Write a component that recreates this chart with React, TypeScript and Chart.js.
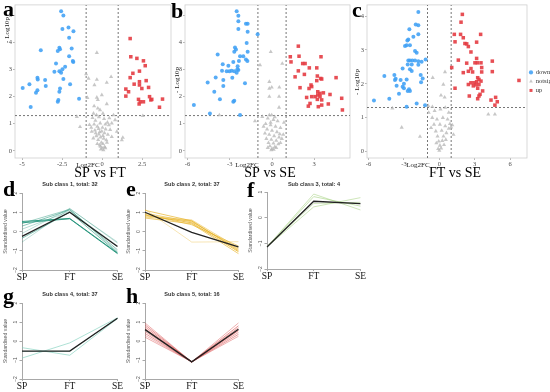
import React, { useEffect, useRef } from 'react';
import { Chart, registerables } from 'chart.js';
Chart.register(...registerables);

const SERIF = '"Liberation Serif", "DejaVu Serif", serif';
const SANS = '"Liberation Sans", Arial, sans-serif';

type XY = [number, number];

// ---------------- Volcano data (Log2FC, -Log10p) ----------------
const A_DOWN: XY[] = [[-2.56,5.15],[-2.42,4.99],[-2.48,4.49],[-2.1,4.55],[-1.79,4.41],[-2.06,4.17],[-3.83,3.71],[-2.67,3.8],[-2.63,3.75],[-2.77,3.68],[-1.9,3.77],[-2.06,3.49],[-1.83,3.31],[-1.8,3.28],[-2.88,3.22],[-2.31,3.1],[-2.48,3.01],[-2.67,2.94],[-2.98,2.92],[-2.56,2.88],[-2.42,2.65],[-4.04,2.7],[-4.02,2.63],[-3.56,2.61],[-4.54,2.46],[-3.52,2.39],[-2.0,2.46],[-2.63,2.3],[-4.96,2.32],[-4.04,2.24],[-4.13,2.14],[-2.67,2.18],[-2.73,1.88],[-2.77,1.81],[-1.44,1.92],[-4.46,1.62]];
const A_UP: XY[] = [[1.75,4.14],[1.79,3.47],[2.17,3.41],[2.58,3.32],[2.69,3.14],[1.92,2.86],[2.33,2.94],[2.75,2.59],[1.75,2.7],[2.33,2.55],[2.33,2.43],[2.0,2.46],[2.48,2.3],[2.9,2.34],[1.48,2.28],[1.65,2.18],[1.48,2.02],[2.27,1.9],[2.38,1.81],[2.31,1.73],[2.58,1.81],[2.96,2.0],[3.1,1.9],[3.04,1.88],[3.77,1.91],[3.58,1.61]];
const A_NOTSIG: XY[] = [[-0.33,3.62],[-1.0,2.83],[-0.85,2.67],[-0.33,2.63],[0.56,2.73],[0.29,2.52],[-0.48,2.43],[-0.92,1.96],[-0.33,1.97],[-0.27,1.88],[-0.02,2.06],[0.29,1.73],[-0.5,1.65],[-0.27,1.57],[-0.13,1.51],[-0.54,1.38],[-1.58,1.26],[-1.38,0.89],[0.71,1.32],[0.81,1.14],[2.54,1.29],[0.92,0.71],[1.29,0.49],[1.23,0.4],[-0.79,0.96],[-0.65,0.71],[-0.6,1.22],[-0.42,1.12],[-0.2,1.25],[0.12,1.18],[0.33,1.05],[-0.5,0.98],[-0.3,0.9],[0.02,0.86],[0.22,0.8],[0.42,0.95],[-0.45,0.76],[-0.15,0.7],[0.15,0.66],[0.36,0.6],[-0.36,0.55],[-0.1,0.5],[0.1,0.46],[0.26,0.4],[-0.25,0.41],[-0.05,0.31],[0.05,0.26],[-0.15,0.21],[0.15,0.15],[0.0,0.1],[-0.08,0.06],[0.08,0.03],[-0.2,0.61],[0.05,0.56],[-0.4,0.66],[0.5,0.78],[0.6,0.52],[-0.55,0.47],[-0.3,0.26],[0.3,0.31],[-0.1,0.16],[0.2,0.11],[-0.68,0.86],[0.45,1.21],[-0.12,1.02],[0.2,0.98],[-0.35,1.32],[0.05,1.38],[-0.22,0.82],[-0.02,0.72],[0.6,1.02]];

const B_DOWN: XY[] = [[-2.51,5.15],[-2.39,4.98],[-2.39,4.78],[-1.85,4.69],[-1.73,4.69],[-2.39,4.49],[-1.73,4.39],[-1.02,4.3],[-1.8,3.98],[-2.63,3.81],[-2.56,3.74],[-2.68,3.65],[-3.86,3.55],[-1.73,3.65],[-2.27,3.49],[-2.04,3.49],[-1.85,3.37],[-2.75,3.28],[-2.35,3.31],[-1.75,3.31],[-3.5,3.19],[-3.1,3.14],[-2.44,3.12],[-3.55,2.95],[-3.22,2.94],[-3.03,2.94],[-2.87,2.95],[-2.68,2.94],[-2.46,3.01],[-2.39,2.98],[-2.51,2.88],[-4.0,2.71],[-3.46,2.61],[-2.82,2.7],[-4.57,2.52],[-1.92,2.49],[-3.46,2.39],[-4.1,2.18],[-3.7,1.9],[-2.68,1.85],[-2.75,1.81],[-5.55,1.69],[-4.41,1.38],[-2.27,1.32]];
const B_UP: XY[] = [[1.87,3.86],[1.3,3.47],[1.92,3.49],[1.35,3.28],[2.18,3.22],[2.35,3.22],[3.48,3.47],[2.65,3.06],[3.18,3.06],[1.87,2.95],[2.3,2.82],[1.64,2.73],[3.22,2.76],[3.53,2.65],[3.46,2.67],[4.55,2.7],[3.18,2.59],[2.77,2.43],[1.99,2.33],[2.82,2.37],[2.63,2.3],[2.46,1.97],[2.82,2.0],[3.25,2.18],[3.25,2.06],[3.41,2.12],[3.65,2.14],[3.06,2.0],[3.41,2.0],[3.22,1.9],[3.53,1.88],[4.12,2.08],[4.95,1.94],[2.7,1.75],[2.58,1.65],[3.29,1.63],[3.53,1.69],[4.0,1.73],[5.0,1.51]];
const B_NOTSIG: XY[] = [[-0.09,3.65],[-0.85,3.16],[0.73,3.22],[-0.19,2.55],[-0.19,2.3],[-0.02,2.34],[0.52,2.34],[-0.19,2.0],[0.5,2.0],[0.5,1.6],[-0.19,1.32],[-0.02,1.32],[-0.69,1.26],[-1.21,1.1],[-3.74,1.32],[-0.3,1.2],[0.1,1.15],[0.4,1.1],[-0.45,1.0],[-0.1,0.95],[0.25,0.9],[0.6,0.85],[-0.35,0.8],[0.0,0.75],[0.35,0.7],[-0.5,0.65],[-0.2,0.6],[0.15,0.55],[0.5,0.5],[-0.4,0.45],[-0.05,0.42],[0.3,0.38],[0.7,0.45],[-0.25,0.3],[0.1,0.28],[0.45,0.25],[-0.15,0.18],[0.2,0.15],[0.0,0.08],[-0.05,0.03],[0.12,0.05],[0.55,0.62],[-0.6,0.9],[0.85,1.05],[0.3,0.12],[-0.3,0.12],[0.6,0.3],[0.8,0.6],[-0.1,1.05],[0.2,1.25]];

const C_DOWN: XY[] = [[-1.78,4.12],[-1.78,3.73],[-2.0,3.75],[-1.78,3.46],[-2.54,3.61],[-2.2,3.39],[-2.63,3.31],[-2.71,3.28],[-2.77,3.14],[-2.91,3.12],[-2.49,3.14],[-2.06,2.97],[-1.92,2.92],[-1.16,2.72],[-2.63,2.69],[-2.49,2.69],[-2.29,2.69],[-2.06,2.69],[-1.78,2.67],[-2.68,2.57],[-2.34,2.57],[-1.5,2.65],[-1.78,2.56],[-2.49,2.43],[-3.11,2.45],[-2.34,2.38],[-3.81,2.26],[-4.66,2.23],[-3.7,2.15],[-3.76,2.11],[-1.58,2.26],[-1.41,2.16],[-3.28,2.11],[-2.77,2.13],[-1.55,2.05],[-3.0,2.0],[-3.62,1.94],[-3.11,1.91],[-3.0,1.87],[-2.57,1.84],[-2.68,1.79],[-2.49,1.79],[-3.42,1.71],[-4.24,1.56],[-5.54,1.51],[-1.92,1.42],[-1.21,1.37],[-2.77,1.32]];
const C_UP: XY[] = [[1.95,4.05],[1.84,3.82],[1.27,3.46],[1.8,3.46],[2.03,3.36],[3.5,3.46],[1.33,3.24],[2.17,3.19],[2.32,3.18],[2.46,3.1],[3.16,3.23],[2.68,2.94],[1.61,2.7],[3.16,2.75],[3.22,2.62],[3.53,2.62],[3.02,2.62],[2.32,2.61],[4.49,2.67],[1.05,2.48],[2.68,2.45],[3.59,2.48],[2.82,2.35],[3.59,2.35],[2.03,2.33],[2.46,2.37],[4.49,2.36],[3.25,2.18],[3.36,2.13],[3.16,2.06],[2.94,2.03],[3.53,2.08],[2.68,2.03],[2.46,1.98],[3.11,1.97],[3.36,1.98],[2.88,1.94],[6.75,2.1],[1.33,1.87],[3.25,1.87],[3.67,1.79],[2.54,1.64],[3.36,1.64],[3.45,1.69],[3.25,1.56],[4.38,1.52],[4.77,1.6],[4.91,1.47],[4.71,1.37]];
const C_NOTSIG: XY[] = [[0.48,2.35],[-0.56,2.18],[0.34,1.98],[0.14,1.66],[0.45,1.6],[-0.93,1.35],[-0.59,1.32],[-3.98,1.28],[-3.19,0.71],[-1.64,0.44],[4.15,1.1],[4.71,1.1],[0.9,0.82],[1.0,0.72],[0.8,0.68],[1.1,0.78],[-0.4,1.2],[0.1,1.25],[0.5,1.3],[0.8,1.15],[-0.6,1.0],[-0.2,0.95],[0.3,1.0],[0.7,0.95],[-0.45,0.8],[0.05,0.8],[0.5,0.75],[-0.3,0.6],[0.2,0.62],[0.6,0.55],[-0.15,0.45],[0.35,0.45],[-0.05,0.3],[0.25,0.32],[0.05,0.18],[0.15,0.1],[-0.1,0.08],[0.0,0.03],[0.4,0.2],[-0.25,0.25],[0.55,0.35],[-0.7,0.7],[1.2,0.5],[-0.9,1.15]];

const FC_CUT = 1;
const P_CUT = 1.3;
const A_XTICKS = [-5, -2.5, 0, 2.5];
const B_XTICKS = [-6, -3, 0, 3];
const C_XTICKS = [-6, -3, 0, 3, 6];
const AB_YTICKS = [0, 1, 2, 3, 4, 5];
const C_YTICKS = [0, 1, 2, 3, 4];
const GROUPS = ['down', 'notsig', 'up'];

// ---------------- Profile (cluster) data ----------------
const STAGES = ['SP', 'FT', 'SE'];
const PROFILE_YTICKS = [-2, -1, 0, 1, 2];
const D_LINES = [[0.52,0.68,-1.12],[0.45,0.66,-1.15],[0.42,1.15,-1.05],[0.28,1.12,-0.95],[0.12,1.05,-0.75],[-0.1,1.2,-0.6],[-0.35,1.0,-1.1],[-0.55,1.18,-0.55]];
const D_CENTER = [-0.25, 1.0, -0.78];
const E_LINES = [[1.15,-0.55,-0.53],[1.1,0.55,-1.0],[0.95,0.5,-0.9],[0.85,0.45,-1.05],[0.75,0.55,-0.95],[0.7,0.4,-1.15],[0.8,0.6,-0.85],[0.9,0.35,-0.75]];
const E_CENTER = [1.0, -0.05, -0.8];
const F_LINES = [[-1.14,0.92,0.3],[-1.14,0.82,0.45],[-1.14,0.42,0.78],[-1.12,0.55,0.6]];
const F_CENTER = [-1.14, 0.64, 0.55];
const G_LINES = [[-0.35,-0.75,1.18],[-0.9,-0.1,1.22],[-0.55,-0.55,1.2]];
const G_CENTER = [-0.53, -0.53, 1.2];
const H_LINES = [[0.95,-1.1,0.95],[0.85,-1.1,0.8],[0.75,-1.1,0.7],[0.65,-1.1,0.55],[0.5,-1.1,0.45],[0.4,-1.1,0.35],[0.3,-1.1,0.6],[0.2,-1.1,0.25]];
const H_CENTER = [0.6, -1.1, 0.62];

// ---------------- plugins ----------------
const textPlugin = {
  id: 'texts',
  afterDraw(chart: any, _a: any, opts: any) {
    const ctx = chart.ctx;
    (opts.items || []).forEach((t: any) => {
      ctx.save();
      ctx.font = t.font;
      ctx.fillStyle = t.color || '#000';
      ctx.textAlign = t.align || 'left';
      ctx.textBaseline = t.baseline || 'alphabetic';
      ctx.translate(t.x - (opts.ox || 0), t.y - (opts.oy || 0));
      if (t.rot) ctx.rotate(t.rot);
      ctx.fillText(t.text, 0, 0);
      ctx.restore();
    });
  },
};

const boxPlugin = {
  id: 'box',
  beforeDatasetsDraw(chart: any, _a: any, opts: any) {
    if (!opts.show) return;
    const { left, top, right, bottom } = chart.chartArea;
    const ctx = chart.ctx;
    ctx.save();
    ctx.strokeStyle = opts.color;
    ctx.lineWidth = 0.8;
    ctx.strokeRect(left, top, right - left, bottom - top);
    ctx.restore();
  },
};

const rotTickPlugin = {
  id: 'rotTicks',
  afterDraw(chart: any, _a: any, opts: any) {
    if (!opts.show) return;
    const s = chart.scales.y;
    const ctx = chart.ctx;
    s.ticks.forEach((t: any) => {
      const y = s.getPixelForValue(t.value);
      const label = t.value < 0 ? '\u2212' + Math.abs(t.value) : String(t.value);
      ctx.save();
      ctx.font = opts.font;
      ctx.fillStyle = opts.color;
      ctx.textAlign = 'center';
      ctx.textBaseline = 'bottom';
      ctx.translate(s.right - 4, y);
      ctx.rotate(-Math.PI / 2);
      ctx.fillText(label, 0, 0);
      ctx.restore();
    });
  },
};

const toXY = (arr: XY[]) => arr.map(([x, y]) => ({ x, y }));

function makeVolcano(cv: HTMLCanvasElement, V: any) {
  const line = (pts: { x: number; y: number }[]) => ({
    data: pts, showLine: true, pointRadius: 0, borderColor: '#555', borderWidth: 0.8, borderDash: [2, 2], label: 'cut',
  });
  return new Chart(cv, {
    type: 'scatter',
    data: {
      datasets: [
        { label: GROUPS[0], data: toXY(V.down), pointStyle: 'circle', pointRadius: 2, backgroundColor: 'rgba(64,160,245,0.88)', pointBackgroundColor: 'rgba(64,160,245,0.88)', pointBorderWidth: 0 },
        { label: GROUPS[1], data: toXY(V.notsig), pointStyle: 'triangle', pointRadius: 2.4, backgroundColor: 'rgba(180,180,180,0.75)', pointBackgroundColor: 'rgba(180,180,180,0.75)', pointBorderWidth: 0 },
        { label: GROUPS[2], data: toXY(V.up), pointStyle: 'rect', pointRadius: 2.5, backgroundColor: 'rgba(228,60,66,0.9)', pointBackgroundColor: 'rgba(228,60,66,0.9)', pointBorderWidth: 0 },
        line([{ x: -FC_CUT, y: V.yMin }, { x: -FC_CUT, y: V.yMax }]),
        line([{ x: FC_CUT, y: V.yMin }, { x: FC_CUT, y: V.yMax }]),
        line([{ x: V.xMin, y: P_CUT }, { x: V.xMax, y: P_CUT }]),
      ] as any,
    },
    plugins: [textPlugin, boxPlugin],
    options: {
      animation: false,
      responsive: false,
      devicePixelRatio: 1,
      events: [],
      layout: { padding: { top: V.padTop, right: V.padRight, left: 0, bottom: 0 } },
      plugins: {
        tooltip: { enabled: false },
        legend: {
          display: !!V.legend,
          position: 'right',
          fullSize: false,
          maxWidth: 23,
          labels: {
            usePointStyle: true, boxWidth: 3, boxHeight: 3, padding: 2.5,
            font: { family: SERIF, size: 6.5 }, color: '#333',
            filter: (item: any) => item.datasetIndex < 3,
          },
        },
        box: { show: true, color: '#cfcfcf' },
        texts: { ox: V.left, oy: V.top, items: V.texts },
      } as any,
      scales: {
        x: {
          type: 'linear', min: V.xMin, max: V.xMax,
          afterBuildTicks: (s: any) => { s.ticks = V.xTicks.map((v: number) => ({ value: v })); },
          ticks: { font: { family: SERIF, size: 6.5 }, color: '#4d4d4d', padding: 0, maxRotation: 0, autoSkip: false, callback: (v: any) => String(v) },
          grid: { drawOnChartArea: false, tickLength: 2, color: '#888', lineWidth: 0.6 },
          border: { display: false },
          afterFit: (s: any) => { s.height = V.xAxisH; },
        },
        y: {
          type: 'linear', min: V.yMin, max: V.yMax,
          afterBuildTicks: (s: any) => { s.ticks = V.yTicks.map((v: number) => ({ value: v })); },
          ticks: { font: { family: SERIF, size: 6.5 }, color: '#4d4d4d', padding: 1, autoSkip: false, callback: (v: any) => String(v) },
          grid: { drawOnChartArea: false, tickLength: 2, color: '#888', lineWidth: 0.6 },
          border: { display: false },
          afterFit: (s: any) => { s.width = V.yAxisW; },
        },
      } as any,
    },
  });
}

function makeProfile(cv: HTMLCanvasElement, P: any) {
  const rgba = (a: number) => `rgba(${P.rgb},${a})`;
  const datasets = [
    { data: P.center, borderColor: '#222', borderWidth: 1.3 },
    ...P.lines.map((d: number[], i: number) => ({ data: d, borderColor: rgba(P.alphas[i % P.alphas.length]), borderWidth: 1 })),
  ].map((d) => ({ ...d, pointRadius: 0, tension: 0, fill: false }));
  const AX = '#a8a8a8';
  return new Chart(cv, {
    type: 'line',
    data: { labels: STAGES, datasets },
    plugins: [textPlugin, rotTickPlugin],
    options: {
      animation: false,
      responsive: false,
      devicePixelRatio: 1,
      events: [],
      layout: { padding: { top: P.padTop, right: P.padRight, left: 0, bottom: 0 } },
      plugins: {
        legend: { display: false },
        tooltip: { enabled: false },
        texts: { ox: P.left, oy: P.top, items: P.texts },
        rotTicks: { show: true, font: `5px ${SANS}`, color: '#555' },
      } as any,
      scales: {
        x: {
          offset: false,
          grid: { drawOnChartArea: false, tickLength: 2, color: AX },
          border: { color: AX, width: 1 },
          ticks: { font: { family: SERIF, size: 9.5 }, color: '#111', padding: 0, maxRotation: 0, autoSkip: false },
          afterFit: (s: any) => { s.height = P.xAxisH; },
        },
        y: {
          min: -2, max: P.yMax,
          afterBuildTicks: (s: any) => { s.ticks = PROFILE_YTICKS.filter((v) => v <= P.yMax).map((v) => ({ value: v })); },
          ticks: { display: false },
          grid: { drawOnChartArea: false, tickLength: 2.5, color: AX },
          border: { color: AX, width: 1 },
          title: { display: true, text: 'Standardised value', font: { family: SANS, size: 5.2 }, color: '#555', padding: { top: 2, bottom: 0 } },
          afterFit: (s: any) => { s.width = 22; },
        },
      } as any,
    },
  });
}

function ChartBox({ cfg, make }: { cfg: any; make: (c: HTMLCanvasElement, cfg: any) => Chart }) {
  const ref = useRef<HTMLCanvasElement>(null);
  useEffect(() => {
    const ch = make(ref.current as HTMLCanvasElement, cfg);
    return () => ch.destroy();
  }, []);
  return (
    <canvas
      ref={ref}
      width={cfg.width}
      height={cfg.height}
      style={{ position: 'absolute', left: cfg.left, top: cfg.top, width: cfg.width, height: cfg.height }}
    />
  );
}

const LETTER = `bold 22px ${SERIF}`;
const XT = `14px ${SERIF}`;
const LFC = `7px ${SERIF}`;
const YT = `7px ${SERIF}`;
const SUB = `bold 5.6px ${SANS}`;
const R90 = -Math.PI / 2;

const VA = {
  left: 0, top: 0, width: 178, height: 182, padTop: 4, padRight: 7, yAxisW: 15, xAxisH: 24,
  xMin: -5.44, xMax: 4.3, yMin: -0.26, yMax: 5.38, xTicks: A_XTICKS, yTicks: AB_YTICKS,
  down: A_DOWN, notsig: A_NOTSIG, up: A_UP,
  texts: [
    { text: 'a', x: 3, y: 16, font: LETTER },
    { text: 'Log2FC', x: 88, y: 165, font: LFC, align: 'center', baseline: 'middle', color: '#222' },
    { text: 'SP vs FT', x: 100, y: 173, font: XT, align: 'center', baseline: 'middle' },
    { text: '- Log10p', x: 7, y: 30, font: YT, align: 'center', baseline: 'middle', rot: R90, color: '#222' },
  ],
};
const VB = {
  left: 170, top: 0, width: 185, height: 182, padTop: 4, padRight: 5, yAxisW: 15, xAxisH: 24,
  xMin: -6.18, xMax: 5.54, yMin: -0.26, yMax: 5.38, xTicks: B_XTICKS, yTicks: AB_YTICKS,
  down: B_DOWN, notsig: B_NOTSIG, up: B_UP,
  texts: [
    { text: 'b', x: 171, y: 18, font: LETTER },
    { text: 'Log2FC', x: 247, y: 165, font: LFC, align: 'center', baseline: 'middle', color: '#222' },
    { text: 'SP vs SE', x: 270, y: 173, font: XT, align: 'center', baseline: 'middle' },
    { text: '- Log10p', x: 177, y: 80, font: YT, align: 'center', baseline: 'middle', rot: R90, color: '#222' },
  ],
};
const VC = {
  left: 350, top: 0, width: 200, height: 182, padTop: 4, padRight: 0, yAxisW: 17, xAxisH: 24,
  xMin: -6.13, xMax: 7.43, yMin: -0.19, yMax: 4.33, xTicks: C_XTICKS, yTicks: C_YTICKS,
  down: C_DOWN, notsig: C_NOTSIG, up: C_UP, legend: true,
  texts: [
    { text: 'c', x: 352, y: 17, font: LETTER },
    { text: 'Log2FC', x: 418, y: 165, font: LFC, align: 'center', baseline: 'middle', color: '#222' },
    { text: 'FT vs SE', x: 455, y: 173, font: XT, align: 'center', baseline: 'middle' },
    { text: '- Log10p', x: 357, y: 82, font: YT, align: 'center', baseline: 'middle', rot: R90, color: '#222' },
  ],
};

const prof = (o: any) => ({ padTop: 17, padRight: 5, yMax: 2, height: 106, ...o });
const PD = prof({ left: 0, top: 176, width: 123, xAxisH: 12, lines: D_LINES, center: D_CENTER, rgb: '40,150,125', alphas: [0.95, 0.9, 0.45, 0.55, 0.35, 0.3, 0.6, 0.3],
  texts: [{ text: 'd', x: 3, y: 196, font: LETTER }, { text: 'Sub class 1, total: 32', x: 70, y: 184, font: SUB, align: 'center', baseline: 'middle', color: '#333' }] });
const PE = prof({ left: 123, top: 176, width: 121, xAxisH: 12, lines: E_LINES, center: E_CENTER, rgb: '232,180,40', alphas: [0.35, 0.7, 0.6, 0.8, 0.55, 0.65, 0.5, 0.6],
  texts: [{ text: 'e', x: 126, y: 196, font: LETTER }, { text: 'Sub class 2, total: 37', x: 192, y: 184, font: SUB, align: 'center', baseline: 'middle', color: '#333' }] });
const PF = prof({ left: 245, top: 175, width: 121, xAxisH: 12, yMax: 1, lines: F_LINES, center: F_CENTER, rgb: '165,210,130', alphas: [0.55, 0.6, 0.55, 0.5],
  texts: [{ text: 'f', x: 247, y: 197, font: LETTER }, { text: 'Sub class 3, total: 4', x: 314, y: 184, font: SUB, align: 'center', baseline: 'middle', color: '#333' }] });
const PG = prof({ left: 0, top: 286, width: 123, xAxisH: 13, lines: G_LINES, center: G_CENTER, rgb: '120,205,185', alphas: [0.6, 0.6, 0.5],
  texts: [{ text: 'g', x: 3, y: 303, font: LETTER }, { text: 'Sub class 4, total: 37', x: 70, y: 294, font: SUB, align: 'center', baseline: 'middle', color: '#333' }] });
const PH = prof({ left: 123, top: 286, width: 121, xAxisH: 13, lines: H_LINES, center: H_CENTER, rgb: '215,60,60', alphas: [0.4, 0.55, 0.5, 0.65, 0.45, 0.5, 0.35, 0.4],
  texts: [{ text: 'h', x: 126, y: 303, font: LETTER }, { text: 'Sub class 5, total: 16', x: 192, y: 294, font: SUB, align: 'center', baseline: 'middle', color: '#333' }] });

export default function App() {
  return (
    <div style={{ position: 'absolute', left: 0, top: 0, width: 550, height: 392, background: '#fff', overflow: 'hidden' }}>
      <ChartBox cfg={VA} make={makeVolcano} />
      <ChartBox cfg={VB} make={makeVolcano} />
      <ChartBox cfg={VC} make={makeVolcano} />
      <ChartBox cfg={PD} make={makeProfile} />
      <ChartBox cfg={PE} make={makeProfile} />
      <ChartBox cfg={PF} make={makeProfile} />
      <ChartBox cfg={PG} make={makeProfile} />
      <ChartBox cfg={PH} make={makeProfile} />
    </div>
  );
}
